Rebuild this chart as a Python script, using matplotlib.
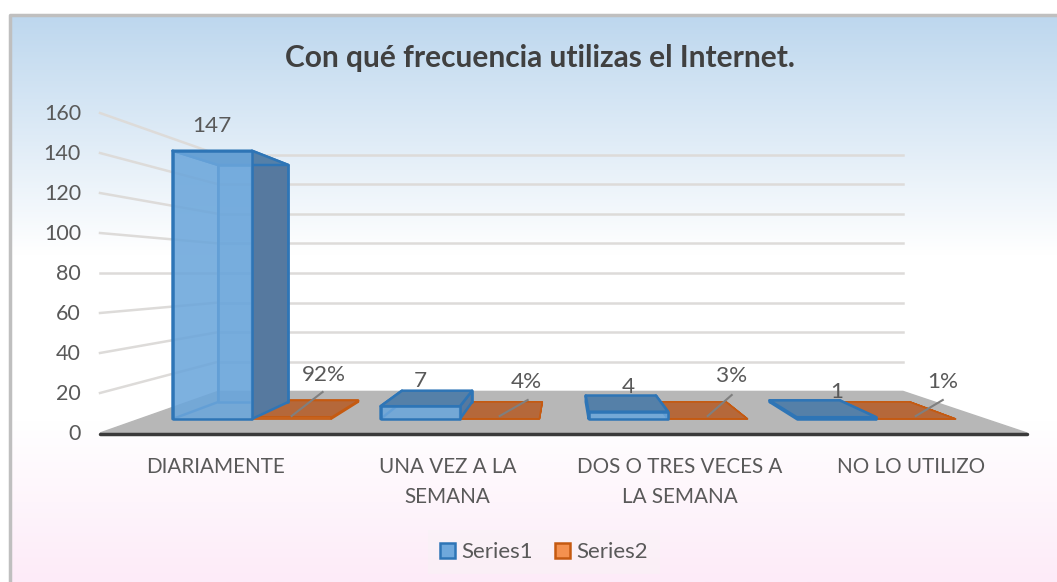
import matplotlib
matplotlib.use("Agg")
import matplotlib.pyplot as plt
import numpy as np
from matplotlib.colors import LinearSegmentedColormap
from matplotlib.patches import Patch

title = "Con qué frecuencia utilizas el Internet."
categories = ["DIARIAMENTE", "UNA VEZ A LA\nSEMANA", "DOS O TRES VECES A\nLA SEMANA", "NO LO UTILIZO"]
series1 = [147, 7, 4, 1]
series2 = [0.92, 0.04, 0.03, 0.01]
series_names = ["Series1", "Series2"]
y_ticks = [0, 20, 40, 60, 80, 100, 120, 140, 160]

# label offsets from the front centre of each orange bar (pixels)
pct_text_off = [(32, -44), (27, -37), (24, -43), (27, -37)]
pct_line_off = [(31, -27), (28, -19), (24, -24), (27, -19)]

# one point perspective, everything is in pixels of the picture
VX, VY = 564, 273
S_BACK = 0.74
S_BAR_FRONT, S_BAR_BACK = 0.9125, 0.806
FLOOR_L, FLOOR_R = 100, 1027
BACK_L, BACK_R = 218, 903
STEP, BAR_W = 228, 87
TEXT = "#595959"

plt.rcParams["font.family"] = ["Lato", "DejaVu Sans"]


def wall_y(v, s):
    return VY - (2 * v - 160) * s


def pt(x, v, s):
    return (VX + x * s, wall_y(v, s))


def draw_box(ax, x0, x1, v, front, back, side, top, edge, lw, z):
    f, b = S_BAR_FRONT, S_BAR_BACK
    # only the side turned to the viewer gets painted
    left = "none" if x0 < 0 else side
    right = "none" if x1 > 0 else side
    faces = [
        ([pt(x0, 0, b), pt(x1, 0, b), pt(x1, v, b), pt(x0, v, b)], back),
        ([pt(x0, 0, f), pt(x0, 0, b), pt(x0, v, b), pt(x0, v, f)], left),
        ([pt(x1, 0, f), pt(x1, 0, b), pt(x1, v, b), pt(x1, v, f)], right),
        ([pt(x0, v, f), pt(x1, v, f), pt(x1, v, b), pt(x0, v, b)], top),
        ([pt(x0, 0, f), pt(x1, 0, f), pt(x1, v, f), pt(x0, v, f)], front),
    ]
    for i, (poly, color) in enumerate(faces):
        xs, ys = zip(*poly)
        ax.fill(xs, ys, facecolor=color, edgecolor=edge, linewidth=lw, joinstyle="round", zorder=z + i * 0.01)


fig = plt.figure(figsize=(10.57, 5.82), dpi=100)
ax = fig.add_axes([0, 0, 1, 1])
ax.axis("off")

# chart area with its gradient
bg = LinearSegmentedColormap.from_list(
    "bg", [(0, "#BDD7EE"), (0.42, "#FFFFFF"), (0.72, "#FFFFFF"), (1, "#FDEBF8")]
)
ax.imshow(np.linspace(0, 1, 256).reshape(-1, 1), cmap=bg, extent=(10, 1057, 582, 15), aspect="auto", zorder=0)
ax.plot([10, 10, 1057], [582, 15, 15], color="#BFBFBF", lw=2.5, zorder=1)
ax.set_xlim(0, 1057)
ax.set_ylim(582, 0)

# walls
for v in y_ticks:
    if v > 0:
        ax.plot([FLOOR_L, BACK_L], [wall_y(v, 1), wall_y(v, S_BACK)], color="#DDDBD9", lw=1.8, zorder=2)
        ax.plot([BACK_L, BACK_R], [wall_y(v, S_BACK)] * 2, color="#DDDBD9", lw=1.8, zorder=2)
    ax.text(81, wall_y(v, 1) + 1, str(v), ha="right", va="center", fontsize=15.5, color=TEXT, zorder=6)

# floor
ax.fill([FLOOR_L, BACK_L, BACK_R, FLOOR_R], [wall_y(0, 1), wall_y(0, S_BACK), wall_y(0, S_BACK), wall_y(0, 1)],
        color="#B7B7B7", zorder=3)
ax.plot([FLOOR_L, FLOOR_R], [wall_y(0, 1) + 1] * 2, color="#3A3A3A", lw=2.5, solid_capstyle="round", zorder=3.5)

# bars
for i, (a, b) in enumerate(zip(series1, series2)):
    c = (i - 1.5) * STEP
    draw_box(ax, c, c + BAR_W, b, "#D98A55", "#B5683A", "#B5683A", "#B5683A", "#C55A11", 1.2, 4 + i * 0.1)
    draw_box(ax, c - BAR_W, c, a, (0.42, 0.65, 0.86, 0.88), (0.357, 0.608, 0.835, 0.3), "#56799F", "#5580A8",
             "#2E75B6", 1.8, 4.05 + i * 0.1)

    # value labels
    lx, ly = pt(c - BAR_W / 2, a, S_BAR_FRONT)
    ax.text(lx, ly - 25, str(a), ha="center", va="center", fontsize=16.2, color=TEXT, zorder=6)
    ox, oy = pt(c + BAR_W / 2, 0, S_BAR_FRONT)
    ax.plot([ox, ox + pct_line_off[i][0]], [oy - 3, oy + pct_line_off[i][1]], color="#7F7F7F", lw=1.5, zorder=5.5)
    ax.text(ox + pct_text_off[i][0], oy + pct_text_off[i][1], f"{b * 100:.0f}%", ha="center", va="center",
            fontsize=16.2, color=TEXT, zorder=6)

# category labels
cat_w = (FLOOR_R - FLOOR_L) / len(categories)
for i, name in enumerate(categories):
    ax.text(FLOOR_L + cat_w * (i + 0.5), 457, name, ha="center", va="top", fontsize=14.9, color=TEXT,
            linespacing=1.6, zorder=6)

ax.text(540, 58, title, ha="center", va="center", fontsize=21.5, fontweight="bold", color="#404040", zorder=6)

handles = [
    Patch(facecolor="#6FA8DC", edgecolor="#2E75B6", linewidth=1.8),
    Patch(facecolor="#F4914F", edgecolor="#C55A11", linewidth=1.8),
]
leg = ax.legend(handles, series_names, ncol=2, loc="center", bbox_to_anchor=(544 / 1057, 1 - 552 / 582),
                frameon=True, fancybox=False, framealpha=0.35, edgecolor="none", facecolor="#F5F5F5",
                fontsize=16, labelcolor=TEXT, handlelength=0.65, handleheight=0.65, handletextpad=0.3,
                columnspacing=1.0, borderpad=0.55)

fig.savefig("out.png", dpi=100)
